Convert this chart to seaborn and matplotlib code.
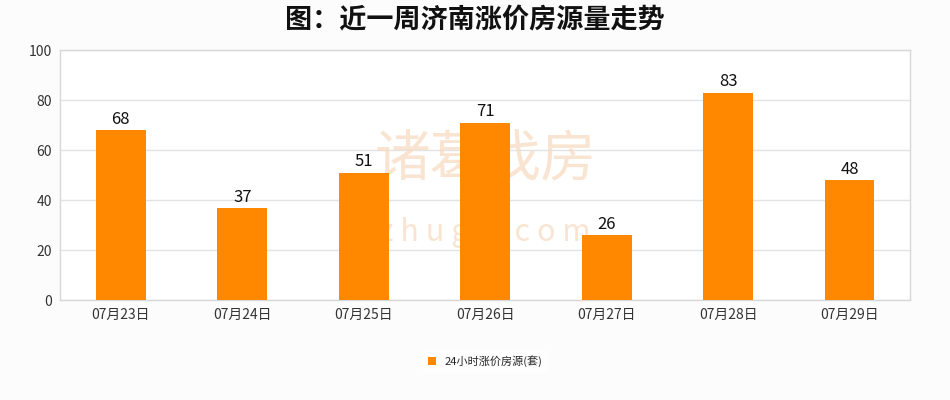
import matplotlib
matplotlib.use("Agg")
import pandas as pd
import matplotlib.pyplot as plt
import seaborn as sns

# Data
dates = ["07月23日", "07月24日", "07月25日", "07月26日", "07月27日", "07月28日", "07月29日"]
counts = [68, 37, 51, 71, 26, 83, 48]
series_name = "24小时涨价房源(套)"
title = "图：近一周济南涨价房源量走势"

sns.set_style("white")
plt.rcParams['font.family'] = ['Noto Sans CJK SC', 'DejaVu Sans']

df = pd.DataFrame({"date": dates, "count": counts, "series": series_name})

fig = plt.figure(figsize=(9.5, 4), dpi=100, facecolor="#fcfcfc")
ax = fig.add_axes([0.0632, 0.25, 0.895, 0.625])
ax.set_facecolor("white")

sns.barplot(data=df, x="date", y="count", hue="series", palette=["#ff8800"],
            saturation=1, width=0.41, linewidth=0, ax=ax, zorder=3)

for i, v in enumerate(counts):
    ax.text(i, v + 0.8, str(v), ha="center", va="bottom", fontsize=12, color="#111111", zorder=4)

ax.set_ylim(0, 100)
ax.set_yticks(range(0, 101, 20))
ax.yaxis.grid(True, color="#e3e3e3", linewidth=1, zorder=0)
ax.set_xlabel("")
ax.set_ylabel("")
ax.tick_params(axis="both", length=0, labelsize=10, colors="#333333", pad=6)
for s in ax.spines.values():
    s.set_color("#d8d8d8")
    s.set_linewidth(1)

# watermark (drawn under the bars)
ax.text(0.5, 0.56, "诸葛找房", transform=ax.transAxes, ha="center", va="center",
        fontsize=40, color="#f7d9bf", alpha=0.7, zorder=1)
ax.text(0.5, 0.27, "z h u g e . c o m", transform=ax.transAxes, ha="center", va="center",
        fontsize=22, color="#f7d9bf", alpha=0.7, zorder=1)

fig.text(0.5, 0.948, title, ha="center", va="center", fontsize=19.5, fontweight="bold", color="#111111")

handles, labels = ax.get_legend_handles_labels()
ax.legend(handles, labels, loc="center", bbox_to_anchor=(0.5, -0.245), frameon=True,
          fontsize=8, handlelength=0.7, handleheight=0.7, facecolor="white",
          edgecolor="white", fancybox=False)

fig.savefig("out.png", dpi=100, facecolor=fig.get_facecolor())
